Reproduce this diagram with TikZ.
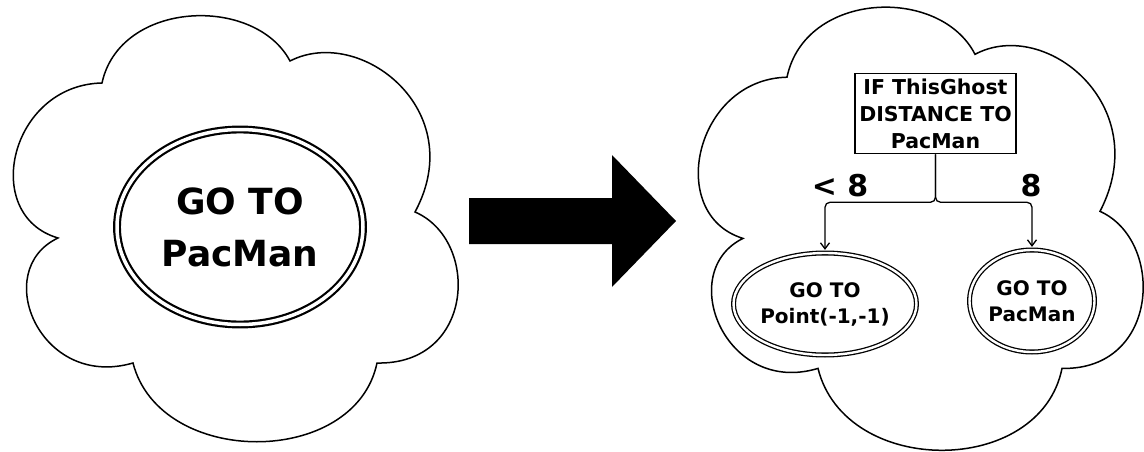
\documentclass[tikz,border=0pt]{standalone}
\usepackage{fontspec}
\setmainfont{DejaVu Sans}
\usetikzlibrary{shapes.geometric,arrows.meta}

\tikzset{
  goal/.style={ellipse, draw, double, inner sep=0pt, align=center},
  test/.style={rectangle, draw, line width=1.5pt, inner sep=0pt, align=center,
    font=\bfseries\fontsize{20.5}{27}\selectfont},
  branch/.style={line width=1.3pt, rounded corners=5pt, shorten >=2.5pt,
    -{Straight Barb[length=6pt, width=9pt]}},
  pics/bubble/.style={code={
    \draw[line width=1.5pt] (-133,-145)
      .. controls (-115,-228) and (20,-233) .. (55,-167)
      .. controls (125,-203) and (235,-118) .. (180,-16)
      .. controls (245,12) and (240,137) .. (142,135)
      .. controls (120,240) and (-75,240) .. (-102,135)
      .. controls (-195,162) and (-245,42) .. (-177,10)
      .. controls (-255,-13) and (-225,-143) .. (-133,-145) -- cycle;
  }}
}

\begin{document}
\begin{tikzpicture}[x=1pt, y=-1pt]
    \useasboundingbox (0,0) rectangle (1144,452);

    % Clouds
    \pic at (235,228) {bubble};
    \pic[yscale=1.04] at (920,228) {bubble};

    % Before
    \node[goal, line width=2.2pt, double distance=3.5pt, minimum width=246pt,
      minimum height=195pt, font=\bfseries\fontsize{36}{52}\selectfont]
      (goal) at (240,227) {GO TO\\PacMan};

    % Big arrow
    \fill (469,198) -- (612,198) -- (612,155) -- (676,221) -- (612,287)
      -- (612,244) -- (469,244) -- cycle;

    % After
    \node[test, minimum width=161pt, minimum height=80pt] (cond) at (935.5,113.5)
      {IF ThisGhost\\DISTANCE TO\\PacMan};
    \node[goal, line width=1.3pt, double distance=2.4pt, minimum width=171pt,
      minimum height=102pt, font=\bfseries\fontsize{20}{26}\selectfont]
      (near) at (825,304) {GO TO\\Point(-1,-1)};
    \node[goal, line width=1.3pt, double distance=2.4pt, minimum width=125pt,
      minimum height=102pt, font=\bfseries\fontsize{20}{26}\selectfont]
      (far) at (1032,301) {GO TO\\PacMan};

    % Branches
    \draw[branch] (cond.south) -- ++(0,48) -| (near.north);
    \draw[branch] (cond.south) -- ++(0,48) -| (far.north);

    % Branch labels
    \node[font=\bfseries\fontsize{30}{36}\selectfont] (lessLbl) at (840,186) {< 8};
    \node[font=\bfseries\fontsize{30}{36}\selectfont] (moreLbl) at (1031,186) {8};
\end{tikzpicture}
\end{document}
